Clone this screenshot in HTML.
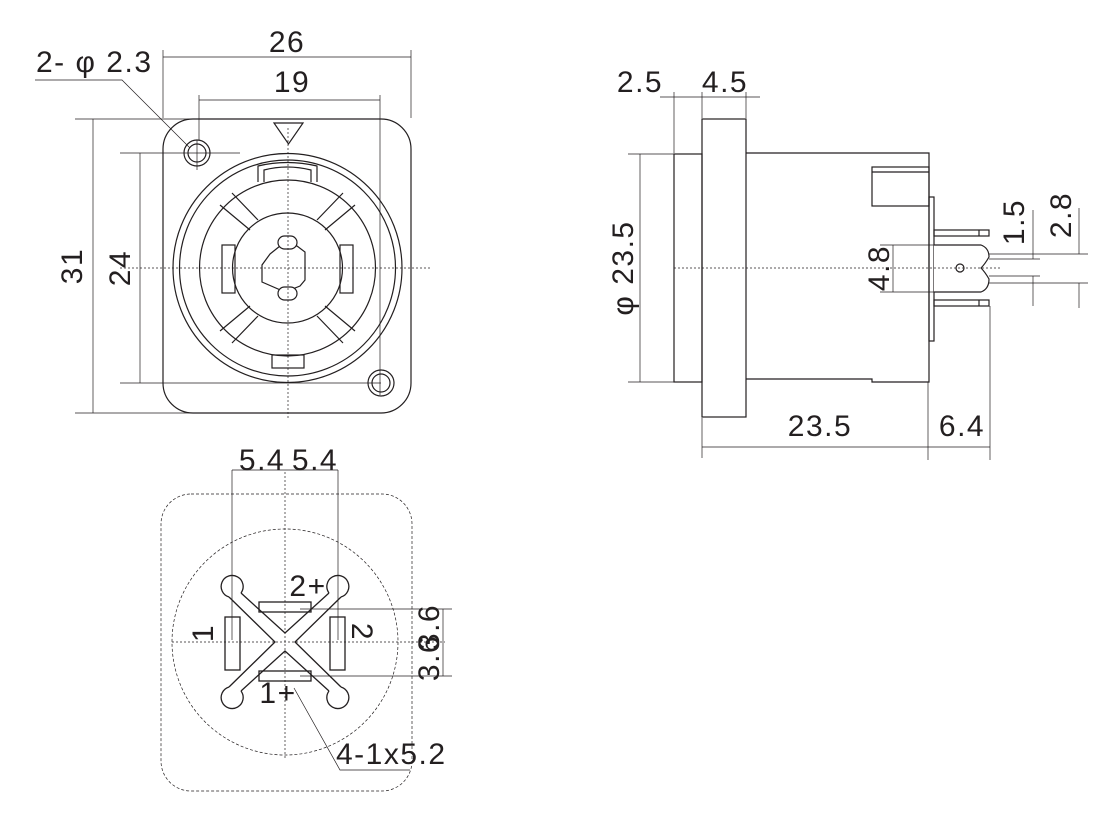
<!DOCTYPE html>
<html><head><meta charset="utf-8"><style>html,body{margin:0;padding:0;background:#fff}svg{display:block}</style></head>
<body>
<svg width="1120" height="822" viewBox="0 0 1120 822" xmlns="http://www.w3.org/2000/svg" font-family="Liberation Sans, sans-serif" font-size="30" fill="none" stroke="#231f20">
<g stroke-width="1.2">
<rect x="163" y="119" width="248" height="294" rx="30"/>
<circle cx="197" cy="153" r="13"/><circle cx="197" cy="153" r="9"/>
<circle cx="381" cy="383" r="13"/><circle cx="381" cy="383" r="9"/>
<path d="M274 123 L303 123 L288.5 144 Z"/>
<circle cx="287.5" cy="268" r="114.5"/>
<circle cx="287.5" cy="268" r="108"/>
<circle cx="287.5" cy="268" r="88"/>
<circle cx="287.5" cy="268" r="55"/>
<path d="M258 182 L258 166 Q287 159 317 166 L317 182"/>
<path d="M264 182 L264 170 Q287 164 311 170 L311 182"/>
<rect x="272" y="355" width="32" height="13"/>
<rect x="222" y="245" width="13" height="48"/><rect x="340" y="245" width="13" height="48"/>
<path d="M220 205 L250 230 M232 193 L258 220 M355 205 L325 230 M343 193 L317 220 M220 331 L250 306 M232 343 L258 316 M355 331 L325 306 M343 343 L317 316"/>
<path d="M270 254 L280 246 L297 246 L305 252 L305 280 L300 286 L285 292 L262 282 L262 265 Z"/>
<rect x="278" y="236" width="19" height="13" rx="6.5" fill="#fff"/>
<rect x="278" y="287" width="19" height="13" rx="6.5" fill="#fff"/>
</g>
<g stroke-width="0.7">
<path d="M288 128 L288 418 M120 268 L430 268" stroke-dasharray="2 2"/>
<path d="M163 118 L163 50 M411 118 L411 50 M163 57 L411 57"/>
<path d="M199 140 L199 95 M380 395 L380 95 M199 100 L380 100"/>
<path d="M75 119 L200 119 M75 413 L200 413 M93 119 L93 413"/>
<path d="M120 153 L240 153 M120 383 L381 383 M140 153 L140 383 M197 140 L197 170"/>
<path d="M35 80 L122 80 L190 148"/>
</g>
<g stroke-width="1.2">
<rect x="702" y="119" width="44" height="298"/>
<rect x="674" y="154" width="28" height="228"/>
<path d="M746 153 L929 153 L929 382 L872 382 L872 379 L746 379"/>
<rect x="872" y="167" width="57" height="39"/><path d="M872 172 L929 172"/>
<rect x="929" y="197" width="5" height="144"/>
<rect x="934" y="230" width="55" height="6"/><path d="M979 230 L979 236"/>
<rect x="934" y="300" width="55" height="6"/><path d="M979 300 L979 306"/>
<path d="M934 245 L981 245 Q989 248 989 257 Q985 264 981 268 Q985 272 989 279 Q989 289 981 292 L934 292" fill="#fff"/>
<circle cx="960" cy="268" r="4"/>
</g>
<g stroke-width="0.7">
<path d="M674 268 L1000 268" stroke-dasharray="2 2"/>
<path d="M674 153 L674 92 M702 118 L702 92 M746 118 L746 92 M660 97 L760 97"/>
<path d="M628 154 L674 154 M628 382 L674 382 M640 154 L640 382"/>
<path d="M702 418 L702 458 M928 382 L928 460 M990 306 L990 460 M702 447 L990 447"/>
<path d="M880 245 L934 245 M880 292 L934 292 M893 245 L893 292"/>
<path d="M989 259 L1040 259 M989 276 L1040 276 M1033 210 L1033 259 M1033 276 L1033 306"/>
<path d="M989 254 L1088 254 M989 283 L1088 283 M1079 208 L1079 254 M1079 283 L1079 308"/>
<rect x="161" y="494" width="251" height="297" rx="30" stroke-dasharray="3 2"/>
<circle cx="285" cy="642" r="113" stroke-dasharray="3 2"/>
<path d="M285 472 L285 760 M172 642 L445 642" stroke-dasharray="2 2"/>
<path d="M232 470 L232 640 M338 470 L338 640 M232 470 L338 470"/>
<path d="M300 609 L452 609 M300 676 L452 676 M443 609 L443 676"/>
<path d="M294 688 L340 770 L410 770"/>
</g>
<g stroke-width="1.3">
<path d="M241 593 L285 633 L329 593"/>
<path d="M229 597 L275 642 L229 687 M341 597 L295 642 L341 687"/>
<path d="M241 691 L285 651 L329 691"/>
<path d="M229 597 A11 11 0 1 1 241 593 M341 597 A11 11 0 1 0 329 593 M229 687 A11 11 0 1 0 241 691 M341 687 A11 11 0 1 1 329 691"/>
<rect x="259" y="602" width="52" height="10"/><rect x="259" y="671" width="52" height="10"/>
<rect x="225" y="617" width="15" height="53"/><rect x="330" y="617" width="15" height="53"/>
</g>
<g fill="#231f20" stroke="none" letter-spacing="1.5">
<text x="287" y="52" text-anchor="middle">26</text>
<text x="292" y="92" text-anchor="middle">19</text>
<text x="36" y="72">2- φ 2.3</text>
<text transform="translate(82 266) rotate(-90)" text-anchor="middle">31</text>
<text transform="translate(130 268) rotate(-90)" text-anchor="middle">24</text>
<text x="640" y="92" text-anchor="middle">2.5</text>
<text x="725" y="92" text-anchor="middle">4.5</text>
<text transform="translate(633 268) rotate(-90)" text-anchor="middle">φ 23.5</text>
<text x="820" y="436" text-anchor="middle">23.5</text>
<text x="962" y="436" text-anchor="middle">6.4</text>
<text transform="translate(889 268) rotate(-90)" text-anchor="middle">4.8</text>
<text transform="translate(1024 222) rotate(-90)" text-anchor="middle">1.5</text>
<text transform="translate(1071 215) rotate(-90)" text-anchor="middle">2.8</text>
<text x="262" y="470" text-anchor="middle">5.4</text>
<text x="315" y="470" text-anchor="middle">5.4</text>
<text x="308" y="596" text-anchor="middle">2+</text>
<text x="278" y="703" text-anchor="middle">1+</text>
<text transform="translate(213 633) rotate(-90)" text-anchor="middle">1</text>
<text transform="translate(352 632) rotate(90)" text-anchor="middle">2</text>
<text transform="translate(439 627) rotate(-90)" text-anchor="middle">3.6</text>
<text transform="translate(439 658) rotate(-90)" text-anchor="middle">3.6</text>
<text x="336" y="764">4-1x5.2</text>
</g>
</svg>
</body></html>
